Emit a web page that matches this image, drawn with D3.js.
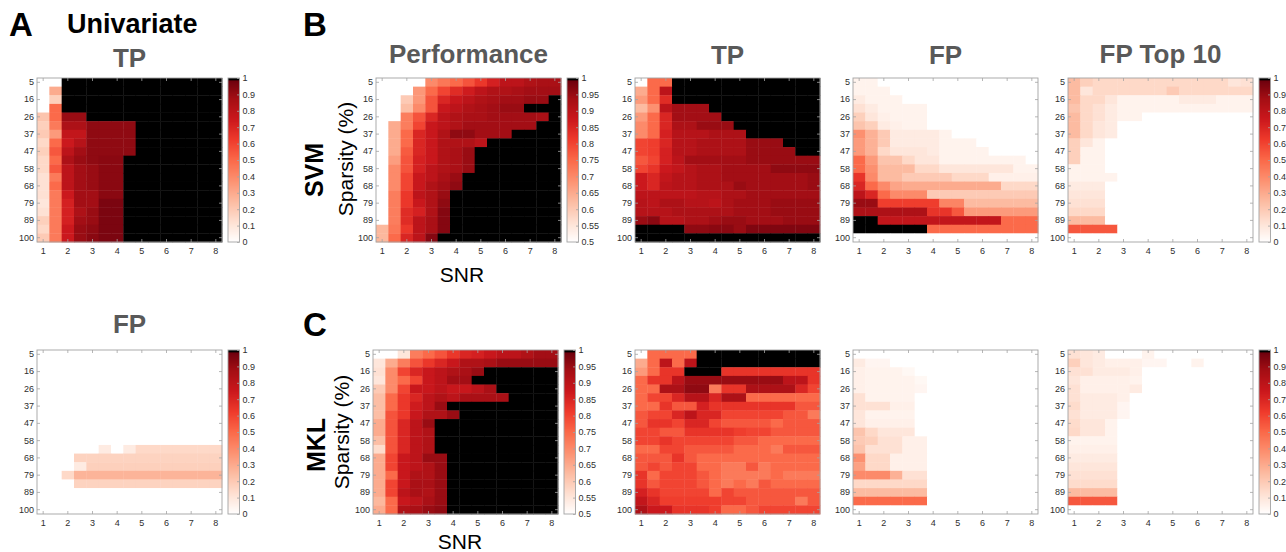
<!DOCTYPE html>
<html>
<head>
<meta charset="utf-8">
<script src="https://cdn.jsdelivr.net/npm/d3@7"></script>
<style>
  body { margin: 0; background: #fff; }
  svg { font-family: "Liberation Sans", Arial, Helvetica, sans-serif; }
</style>
</head>
<body>
<svg id="fig" width="1286" height="552"></svg>
<script>
// grid axes
const snrLevels = [1, 1.5, 2, 2.5, 3, 3.5, 4, 4.5, 5, 5.5, 6, 6.5, 7, 7.5, 8]
const sparsityLevels = [5, 10, 16, 21, 26, 31, 37, 42, 47, 53, 58, 63, 68, 74, 79, 84, 89, 95, 100]
const snrTicks = [1, 2, 3, 4, 5, 6, 7, 8]
const sparsityTicks = [5, 16, 26, 37, 47, 58, 68, 79, 89, 100]
const rateTicks = [0, 0.1, 0.2, 0.3, 0.4, 0.5, 0.6, 0.7, 0.8, 0.9, 1]
const perfTicks = [0.5, 0.55, 0.6, 0.65, 0.7, 0.75, 0.8, 0.85, 0.9, 0.95, 1]

// A - univariate, rows = sparsity, cols = SNR
const uniTP = [
  [0,0,1,1,1,1,1,1,1,1,1,1,1,1,1],
  [0,.3,1,1,1,1,1,1,1,1,1,1,1,1,1],
  [0,.18,1,1,1,1,1,1,1,1,1,1,1,1,1],
  [0,.5,1,1,1,1,1,1,1,1,1,1,1,1,1],
  [.22,.5,.9,.9,1,1,1,1,1,1,1,1,1,1,1],
  [.18,.45,.85,.85,.92,.92,.92,.92,1,1,1,1,1,1,1],
  [.2,.35,.78,.78,.92,.92,.92,.92,1,1,1,1,1,1,1],
  [.15,.5,.75,.82,.92,.92,.92,.92,1,1,1,1,1,1,1],
  [.18,.55,.8,.88,.92,.92,.92,.92,1,1,1,1,1,1,1],
  [.15,.5,.85,.9,.92,.93,.93,1,1,1,1,1,1,1,1],
  [.15,.55,.8,.88,.9,.93,.93,1,1,1,1,1,1,1,1],
  [.12,.45,.8,.88,.9,.93,.93,1,1,1,1,1,1,1,1],
  [.12,.5,.8,.88,.9,.93,.93,1,1,1,1,1,1,1,1],
  [.12,.45,.75,.88,.88,.93,.93,1,1,1,1,1,1,1,1],
  [.1,.45,.72,.88,.88,.96,.96,1,1,1,1,1,1,1,1],
  [.12,.45,.72,.85,.9,.96,.96,1,1,1,1,1,1,1,1],
  [.18,.45,.72,.88,.9,.96,.96,1,1,1,1,1,1,1,1],
  [.15,.45,.75,.9,.92,.96,.96,1,1,1,1,1,1,1,1],
  [.2,.45,.75,.9,.93,.96,.96,1,1,1,1,1,1,1,1]
]
const uniFP = [
  [0,0,0,0,0,0,0,0,0,0,0,0,0,0,0],
  [0,0,0,0,0,0,0,0,0,0,0,0,0,0,0],
  [0,0,0,0,0,0,0,0,0,0,0,0,0,0,0],
  [0,0,0,0,0,0,0,0,0,0,0,0,0,0,0],
  [0,0,0,0,0,0,0,0,0,0,0,0,0,0,0],
  [0,0,0,0,0,0,0,0,0,0,0,0,0,0,0],
  [0,0,0,0,0,0,0,0,0,0,0,0,0,0,0],
  [0,0,0,0,0,0,0,0,0,0,0,0,0,0,0],
  [0,0,0,0,0,0,0,0,0,0,0,0,0,0,0],
  [0,0,0,0,0,0,0,0,0,0,0,0,0,0,0],
  [0,0,0,0,0,0,0,0,0,0,0,0,0,0,0],
  [0,0,0,0,0,.08,0,.08,.15,.15,.15,.15,.15,.15,.15],
  [0,0,0,.17,.17,.17,.17,.17,.17,.17,.17,.17,.17,.17,.17],
  [0,0,0,.08,.18,.18,.18,.18,.18,.18,.18,.18,.18,.18,.18],
  [0,0,.15,.27,.27,.27,.27,.27,.27,.27,.27,.27,.27,.27,.27],
  [0,0,0,.17,.17,.17,.17,.17,.17,.17,.17,.17,.17,.17,.17],
  [0,0,0,0,0,0,0,0,0,0,0,0,0,0,0],
  [0,0,0,0,0,0,0,0,0,0,0,0,0,0,0],
  [0,0,0,0,0,0,0,0,0,0,0,0,0,0,0]
]

// B - SVM
const svmPerf = [
  [.5,.5,.5,.5,.7,.73,.75,.78,.82,.86,.9,.9,.92,.93,.93],
  [.5,.5,.5,.68,.75,.8,.84,.87,.9,.92,.92,.93,.94,.94,.94],
  [.5,.5,.6,.68,.78,.85,.88,.9,.92,.93,.94,.94,.95,.95,1],
  [.5,.5,.62,.7,.78,.88,.9,.92,.93,.94,.95,.95,1,1,1],
  [.5,.5,.72,.78,.85,.9,.92,.93,.93,.94,.94,.94,.94,.93,1],
  [.5,.65,.72,.8,.88,.9,.92,.94,.94,.94,.94,.94,.94,1,1],
  [.5,.65,.75,.85,.88,.92,.96,.96,.94,.94,.94,1,1,1,1],
  [.5,.65,.75,.85,.88,.92,.92,.92,.9,1,1,1,1,1,1],
  [.5,.65,.77,.85,.88,.92,.93,.95,1,1,1,1,1,1,1],
  [.5,.67,.78,.86,.88,.92,.93,.95,1,1,1,1,1,1,1],
  [.5,.7,.78,.86,.9,.92,.93,.95,1,1,1,1,1,1,1],
  [.5,.7,.8,.88,.9,.93,.95,1,1,1,1,1,1,1,1],
  [.5,.7,.8,.88,.92,.94,.96,1,1,1,1,1,1,1,1],
  [.5,.72,.82,.9,.92,.95,1,1,1,1,1,1,1,1,1],
  [.5,.72,.82,.88,.92,.96,1,1,1,1,1,1,1,1,1],
  [.5,.72,.84,.86,.92,.97,1,1,1,1,1,1,1,1,1],
  [.5,.72,.84,.9,.93,.97,1,1,1,1,1,1,1,1,1],
  [.63,.73,.82,.9,.93,.97,1,1,1,1,1,1,1,1,1],
  [.63,.75,.85,.9,.97,1,1,1,1,1,1,1,1,1,1]
]
const svmTP = [
  [0,.5,.5,1,1,1,1,1,1,1,1,1,1,1,1],
  [.3,.5,.8,1,1,1,1,1,1,1,1,1,1,1,1],
  [.35,.5,.68,1,1,1,1,1,1,1,1,1,1,1,1],
  [.25,.38,.8,.88,.88,.88,1,1,1,1,1,1,1,1,1],
  [.35,.5,.7,.88,.88,.88,.88,1,1,1,1,1,1,1,1],
  [.4,.5,.7,.85,.85,.9,.9,.9,1,1,1,1,1,1,1],
  [.4,.5,.72,.82,.82,.82,.85,.85,.85,1,1,1,1,1,1],
  [.6,.62,.7,.82,.82,.85,.85,.85,.85,.9,.9,.9,1,1,1],
  [.6,.62,.72,.82,.82,.85,.85,.85,.85,.9,.9,.9,.9,1,1],
  [.55,.6,.72,.8,.88,.88,.88,.88,.88,.9,.9,.9,.9,.9,.9],
  [.6,.65,.75,.78,.82,.85,.85,.88,.88,.88,.88,.92,.92,.92,.92],
  [.75,.7,.78,.82,.82,.85,.85,.88,.88,.88,.88,.88,.88,.88,.9],
  [.75,.7,.8,.82,.82,.85,.85,.85,.9,.88,.88,.88,.88,.88,.9],
  [.8,.8,.8,.8,.8,.82,.82,.85,.85,.88,.88,.88,.88,.88,.88],
  [.82,.8,.85,.85,.82,.82,.8,.85,.88,.88,.88,.9,.9,.9,.9],
  [.82,.82,.82,.85,.85,.85,.85,.85,.88,.88,.88,.9,.9,.9,.9],
  [.9,.93,.82,.82,.85,.85,.88,.9,.9,.88,.88,.88,.9,.9,.9],
  [1,1,1,1,.92,.92,.93,.93,.9,.95,.95,.95,.95,.95,.95],
  [1,1,1,1,1,1,1,1,1,1,1,1,1,1,1]
]
const svmFP = [
  [.05,.05,0,0,0,0,0,0,0,0,0,0,0,0,0],
  [.05,.05,.05,0,0,0,0,0,0,0,0,0,0,0,0],
  [.08,.05,.05,.05,0,0,0,0,0,0,0,0,0,0,0],
  [.12,.08,.05,.05,.05,.05,0,0,0,0,0,0,0,0,0],
  [.18,.1,.06,.05,.05,.05,0,0,0,0,0,0,0,0,0],
  [.22,.18,.08,.06,.05,.05,0,0,0,0,0,0,0,0,0],
  [.38,.28,.2,.08,.08,.08,.08,.05,0,0,0,0,0,0,0],
  [.35,.28,.2,.08,.08,.08,.08,.05,.05,.05,0,0,0,0,0],
  [.35,.28,.15,.1,.1,.1,.08,.05,.05,.05,.05,0,0,0,0],
  [.5,.35,.22,.22,.15,.1,.1,.05,.05,.05,.05,.05,.05,.05,0],
  [.5,.38,.25,.25,.25,.15,.15,.1,.1,.1,.1,.1,.1,.05,.05],
  [.65,.4,.25,.25,.2,.2,.2,.2,.15,.15,.15,.06,.06,.06,.06],
  [.7,.5,.4,.32,.3,.3,.3,.3,.3,.3,.3,.3,.15,.15,.15],
  [.8,.7,.5,.4,.4,.4,.2,.2,.2,.2,.2,.2,.2,.2,.2],
  [.9,.9,.62,.62,.62,.62,.62,.42,.42,.25,.25,.25,.25,.25,.25],
  [.85,.85,.85,.85,.85,.85,.65,.65,.55,.35,.35,.35,.35,.35,.35],
  [1,1,.78,.78,.78,.78,.78,.78,.78,.78,.78,.78,.5,.5,.5],
  [1,1,1,1,1,1,.5,.5,.5,.5,.5,.5,.5,.5,.5],
  [0,0,0,0,0,0,0,0,0,0,0,0,0,0,0]
]
const svmTop10 = [
  [.25,.18,.15,.15,.15,.15,.15,.15,.15,.15,.15,.15,.15,.1,.12],
  [.25,.1,.15,.15,.15,.15,.15,.15,.2,.15,.15,.15,.15,.15,.15],
  [.25,.15,.15,.1,.05,.05,.05,.05,.05,.08,.08,.08,.05,.05,.05],
  [.22,.15,.12,.08,.05,.05,.05,.05,.05,.05,.05,.05,.05,.05,.05],
  [.25,.15,.12,.08,.05,.05,0,0,0,0,0,0,0,0,0],
  [.25,.15,.1,.08,0,0,0,0,0,0,0,0,0,0,0],
  [.25,.15,.1,.08,0,0,0,0,0,0,0,0,0,0,0],
  [.18,.1,.05,0,0,0,0,0,0,0,0,0,0,0,0],
  [.18,.05,.05,0,0,0,0,0,0,0,0,0,0,0,0],
  [.18,.05,.05,0,0,0,0,0,0,0,0,0,0,0,0],
  [.05,.05,.05,0,0,0,0,0,0,0,0,0,0,0,0],
  [.05,.05,.05,.05,0,0,0,0,0,0,0,0,0,0,0],
  [.08,.08,.08,0,0,0,0,0,0,0,0,0,0,0,0],
  [.1,.1,.1,0,0,0,0,0,0,0,0,0,0,0,0],
  [.12,.12,.12,0,0,0,0,0,0,0,0,0,0,0,0],
  [.15,.15,.15,0,0,0,0,0,0,0,0,0,0,0,0],
  [.25,.25,.25,0,0,0,0,0,0,0,0,0,0,0,0],
  [.55,.55,.55,.55,0,0,0,0,0,0,0,0,0,0,0],
  [0,0,0,0,0,0,0,0,0,0,0,0,0,0,0]
]

// C - MKL
const mklPerf = [
  [.5,.5,.55,.72,.75,.78,.82,.85,.86,.88,.9,.9,.92,.94,.94],
  [.55,.65,.72,.78,.82,.85,.88,.92,.92,.93,.95,.95,.95,.95,.95],
  [.56,.7,.8,.85,.88,.9,.92,.93,.95,1,1,1,1,1,1],
  [.55,.7,.75,.8,.88,.9,.94,.94,1,1,1,1,1,1,1],
  [.6,.7,.8,.88,.88,.9,.88,.88,.9,.93,1,1,1,1,1],
  [.62,.75,.82,.85,.9,.92,.9,.93,.93,.93,.93,1,1,1,1],
  [.62,.75,.82,.87,.9,.95,1,1,1,1,1,1,1,1,1],
  [.62,.78,.82,.88,.92,.92,.95,1,1,1,1,1,1,1,1],
  [.65,.78,.85,.9,.95,1,1,1,1,1,1,1,1,1,1],
  [.65,.78,.85,.9,.92,1,1,1,1,1,1,1,1,1,1],
  [.62,.78,.85,.9,.92,1,1,1,1,1,1,1,1,1,1],
  [.57,.78,.85,.9,.92,1,1,1,1,1,1,1,1,1,1],
  [.65,.8,.88,.9,.95,.95,1,1,1,1,1,1,1,1,1],
  [.65,.8,.88,.9,.92,.95,1,1,1,1,1,1,1,1,1],
  [.65,.75,.88,.92,.92,.95,1,1,1,1,1,1,1,1,1],
  [.65,.8,.88,.93,.93,.95,1,1,1,1,1,1,1,1,1],
  [.65,.8,.9,.93,.92,.95,1,1,1,1,1,1,1,1,1],
  [.63,.75,.88,.9,.93,.95,1,1,1,1,1,1,1,1,1],
  [.65,.75,.92,.93,.95,.96,1,1,1,1,1,1,1,1,1]
]
const mklTP = [
  [0,.5,.5,.5,.5,1,1,1,1,1,1,1,1,1,1],
  [.3,.5,.8,.5,.8,1,1,1,1,1,1,1,1,1,1],
  [.35,.5,.65,.65,1,1,1,.65,.65,.65,.65,.65,.65,.65,.65],
  [.5,.65,.65,.8,.9,.9,.9,.9,.9,.9,.9,.9,.8,.8,.65],
  [.5,.5,.85,.85,.92,.92,.45,.65,.65,.85,.85,.85,.85,.7,.6],
  [.5,.6,.6,.7,.82,.82,.7,.85,.85,.5,.5,.5,.5,.5,.5],
  [.5,.5,.65,.55,.55,.72,.65,.65,.65,.65,.65,.65,.65,.55,.55],
  [.55,.6,.6,.7,.8,.7,.7,.6,.6,.6,.6,.6,.55,.55,.45],
  [.55,.65,.65,.6,.7,.7,.6,.55,.55,.55,.55,.5,.55,.55,.55],
  [.6,.6,.55,.55,.65,.65,.65,.65,.62,.6,.6,.55,.55,.55,.55],
  [.6,.6,.65,.6,.6,.6,.6,.6,.55,.55,.5,.5,.5,.5,.5],
  [.5,.5,.6,.6,.55,.55,.55,.55,.5,.5,.5,.45,.55,.55,.55],
  [.55,.55,.55,.65,.55,.5,.5,.5,.5,.5,.5,.5,.5,.5,.5],
  [.55,.6,.55,.6,.6,.5,.5,.45,.45,.55,.45,.5,.5,.5,.5],
  [.65,.5,.6,.6,.6,.55,.5,.45,.45,.45,.45,.5,.45,.45,.45],
  [.65,.55,.6,.6,.6,.55,.5,.45,.5,.45,.55,.5,.5,.5,.5],
  [.72,.65,.6,.6,.6,.6,.5,.6,.55,.55,.55,.55,.55,.55,.55],
  [.78,.7,.62,.62,.62,.62,.62,.6,.6,.55,.55,.55,.55,.45,.55],
  [.85,.75,.75,.65,.65,.65,.62,.5,.5,.55,.6,.6,.6,.6,.6]
]
const mklFP = [
  [0,0,0,0,0,0,0,0,0,0,0,0,0,0,0],
  [.08,.04,.04,0,0,0,0,0,0,0,0,0,0,0,0],
  [.06,.05,.05,.05,.03,0,0,0,0,0,0,0,0,0,0],
  [.06,.05,.05,.05,.05,.03,0,0,0,0,0,0,0,0,0],
  [.06,.05,.05,.05,.05,.04,0,0,0,0,0,0,0,0,0],
  [.12,.05,.05,.05,.05,0,0,0,0,0,0,0,0,0,0],
  [.12,.12,.12,.06,.06,0,0,0,0,0,0,0,0,0,0],
  [.1,.05,.05,.05,.05,0,0,0,0,0,0,0,0,0,0],
  [.1,.06,.06,.06,.06,0,0,0,0,0,0,0,0,0,0],
  [.22,.15,.1,.1,.1,0,0,0,0,0,0,0,0,0,0],
  [.2,.18,.12,.12,.06,.06,0,0,0,0,0,0,0,0,0],
  [.22,.12,.12,.12,.06,.06,0,0,0,0,0,0,0,0,0],
  [.38,.15,.15,.06,.06,.06,0,0,0,0,0,0,0,0,0],
  [.33,.15,.15,.06,.06,.06,0,0,0,0,0,0,0,0,0],
  [.4,.4,.4,.28,.12,.12,0,0,0,0,0,0,0,0,0],
  [.15,.15,.15,.15,.15,.15,0,0,0,0,0,0,0,0,0],
  [.25,.25,.25,.25,.25,.25,0,0,0,0,0,0,0,0,0],
  [.5,.5,.5,.5,.5,.5,0,0,0,0,0,0,0,0,0],
  [0,0,0,0,0,0,0,0,0,0,0,0,0,0,0]
]
const mklTop10 = [
  [.12,.1,.08,0,0,0,.05,0,0,0,0,0,0,0,0],
  [.18,.1,.08,.06,.06,.06,.04,.04,0,0,.05,0,0,0,0],
  [.12,.12,.08,.08,.08,.06,0,0,0,0,0,0,0,0,0],
  [.1,.06,.06,.06,.06,.05,0,0,0,0,0,0,0,0,0],
  [.12,.06,.06,.06,.06,.08,0,0,0,0,0,0,0,0,0],
  [.12,.08,.08,.08,.06,0,0,0,0,0,0,0,0,0,0],
  [.14,.08,.08,.08,.04,0,0,0,0,0,0,0,0,0,0],
  [.12,.08,.08,.08,.04,0,0,0,0,0,0,0,0,0,0],
  [.14,.1,.1,.05,0,0,0,0,0,0,0,0,0,0,0],
  [.15,.1,.1,.05,0,0,0,0,0,0,0,0,0,0,0],
  [.05,.05,.05,.05,0,0,0,0,0,0,0,0,0,0,0],
  [.06,.06,.06,.06,0,0,0,0,0,0,0,0,0,0,0],
  [.08,.08,.08,.08,0,0,0,0,0,0,0,0,0,0,0],
  [.1,.1,.1,.1,0,0,0,0,0,0,0,0,0,0,0],
  [.12,.12,.12,.12,0,0,0,0,0,0,0,0,0,0,0],
  [.14,.14,.14,.14,0,0,0,0,0,0,0,0,0,0,0],
  [.25,.25,.25,.25,0,0,0,0,0,0,0,0,0,0,0],
  [.55,.55,.55,.55,0,0,0,0,0,0,0,0,0,0,0],
  [0,0,0,0,0,0,0,0,0,0,0,0,0,0,0]
]

const svg = d3.select("#fig")
const plotW = 185, plotH = 164
const boxColor = "#a3a3a3"
const labelColor = "#2e2e2e"
const titleColor = "#595959"
const tickFont = 9

// reds colormap, white at the bottom, black at the very top
const redStops = ["#ffffff","#fee0d2","#fcbba1","#fc9272","#fb6a4a","#ef3b2c","#cb181d","#a50f15","#67000d"]
const redRamp = d3.scaleLinear()
  .domain(redStops.map((c, i) => i / (redStops.length - 1)))
  .range(redStops)
function heatColor(t){
  if (t >= 0.985) return "#000000"
  return redRamp(Math.max(0, t))
}

function styleAxis(g){
  g.select(".domain").remove()
  g.selectAll(".tick line").attr("stroke", boxColor).attr("stroke-width", 0.8)
  g.selectAll(".tick text")
    .attr("fill", labelColor)
    .attr("font-size", tickFont)
    .attr("font-family", "'Liberation Sans', Arial, sans-serif")
}

function drawHeatmap(p){
  const x = d3.scaleBand().domain(snrLevels).range([p.left, p.left + plotW])
  const y = d3.scaleBand().domain(sparsityLevels).range([p.top, p.top + plotH])
  const g = svg.append("g")

  let cells = []
  p.values.forEach((row, i) => row.forEach((v, j) => {
    cells.push({snr: snrLevels[j], sparsity: sparsityLevels[i], value: v})
  }))

  g.append("g").selectAll("rect").data(cells).join("rect")
    .attr("x", d => x(d.snr))
    .attr("y", d => y(d.sparsity))
    .attr("width", x.bandwidth() + 0.4)
    .attr("height", y.bandwidth() + 0.4)
    .attr("fill", d => heatColor((d.value - p.lo) / (p.hi - p.lo)))

  g.append("rect")
    .attr("x", p.left).attr("y", p.top)
    .attr("width", plotW).attr("height", plotH)
    .attr("fill", "none").attr("stroke", boxColor).attr("stroke-width", 0.9)

  g.append("g").attr("transform", `translate(0,${p.top + plotH})`)
    .call(d3.axisBottom(x).tickValues(snrTicks).tickSize(-3).tickPadding(6))
    .call(styleAxis)
  g.append("g").attr("transform", `translate(0,${p.top})`)
    .call(d3.axisTop(x).tickValues(snrTicks).tickSize(-3).tickFormat(""))
    .call(styleAxis)
  g.append("g").attr("transform", `translate(${p.left},0)`)
    .call(d3.axisLeft(y).tickValues(sparsityTicks).tickSize(-3).tickPadding(3))
    .call(styleAxis)
  g.append("g").attr("transform", `translate(${p.left + plotW},0)`)
    .call(d3.axisRight(y).tickValues(sparsityTicks).tickSize(-3).tickFormat(""))
    .call(styleAxis)

  g.append("text")
    .attr("x", p.left + plotW / 2).attr("y", p.titleY)
    .attr("text-anchor", "middle")
    .attr("font-size", 26).attr("font-weight", "bold")
    .attr("fill", titleColor)
    .text(p.title)

  if (p.ticks) drawColorbar(p)
}

function drawColorbar(p){
  const cbX = p.left + plotW + 6, cbW = 11.5
  const cy = d3.scaleLinear().domain([p.lo, p.hi]).range([p.top + plotH, p.top])
  const n = 164
  const steps = d3.range(n).map(i => i / n)
  const g = svg.append("g")
  g.selectAll("rect").data(steps).join("rect")
    .attr("x", cbX)
    .attr("y", t => cy(p.lo + (t + 1 / n) * (p.hi - p.lo)))
    .attr("width", cbW)
    .attr("height", plotH / n + 0.4)
    .attr("fill", t => heatColor(t + 0.5 / n))
  g.append("rect")
    .attr("x", cbX).attr("y", p.top)
    .attr("width", cbW).attr("height", plotH)
    .attr("fill", "none").attr("stroke", boxColor).attr("stroke-width", 0.9)
  g.append("g").attr("transform", `translate(${cbX + cbW},0)`)
    .call(d3.axisRight(cy).tickValues(p.ticks).tickSize(-2.5).tickPadding(3).tickFormat(d => String(d)))
    .call(styleAxis)
}

const panels = [
  {values: uniTP,    left: 37,   top: 78,  lo: 0,   hi: 1, title: "TP",          titleY: 67,  ticks: rateTicks},
  {values: uniFP,    left: 37,   top: 350, lo: 0,   hi: 1, title: "FP",          titleY: 333, ticks: rateTicks},
  {values: svmPerf,  left: 376,  top: 78,  lo: 0.5, hi: 1, title: "Performance", titleY: 63,  ticks: perfTicks},
  {values: svmTP,    left: 635,  top: 78,  lo: 0,   hi: 1, title: "TP",          titleY: 64},
  {values: svmFP,    left: 853,  top: 78,  lo: 0,   hi: 1, title: "FP",          titleY: 64},
  {values: svmTop10, left: 1068, top: 78,  lo: 0,   hi: 1, title: "FP Top 10",   titleY: 63,  ticks: rateTicks},
  {values: mklPerf,  left: 373,  top: 350, lo: 0.5, hi: 1, title: "",            titleY: 0,   ticks: perfTicks},
  {values: mklTP,    left: 635,  top: 350, lo: 0,   hi: 1, title: "",            titleY: 0},
  {values: mklFP,    left: 853,  top: 350, lo: 0,   hi: 1, title: "",            titleY: 0},
  {values: mklTop10, left: 1068, top: 350, lo: 0,   hi: 1, title: "",            titleY: 0,   ticks: rateTicks}
]
panels.forEach(drawHeatmap)

// panel letters and headings
function label(x, y, txt, size, weight, color, anchor){
  return svg.append("text")
    .attr("x", x).attr("y", y)
    .attr("font-size", size).attr("font-weight", weight)
    .attr("fill", color).attr("text-anchor", anchor || "start")
    .text(txt)
}
label(9, 36, "A", 33, "bold", "#000")
label(67, 33, "Univariate", 27, "bold", "#000")
label(303, 36, "B", 33, "bold", "#000")
label(303, 336, "C", 33, "bold", "#000")

function rotated(x, y, txt, size, weight){
  svg.append("text")
    .attr("transform", `translate(${x},${y}) rotate(-90)`)
    .attr("text-anchor", "middle")
    .attr("font-size", size).attr("font-weight", weight)
    .attr("fill", "#000")
    .text(txt)
}
rotated(323, 170, "SVM", 25, "bold")
rotated(325, 445, "MKL", 25, "bold")
rotated(352.5, 159, "Sparsity (%)", 21, "normal")
rotated(348.5, 432, "Sparsity (%)", 21, "normal")

label(462, 282, "SNR", 21, "normal", "#000", "middle")
label(460, 549, "SNR", 21, "normal", "#000", "middle")
</script>
</body>
</html>
